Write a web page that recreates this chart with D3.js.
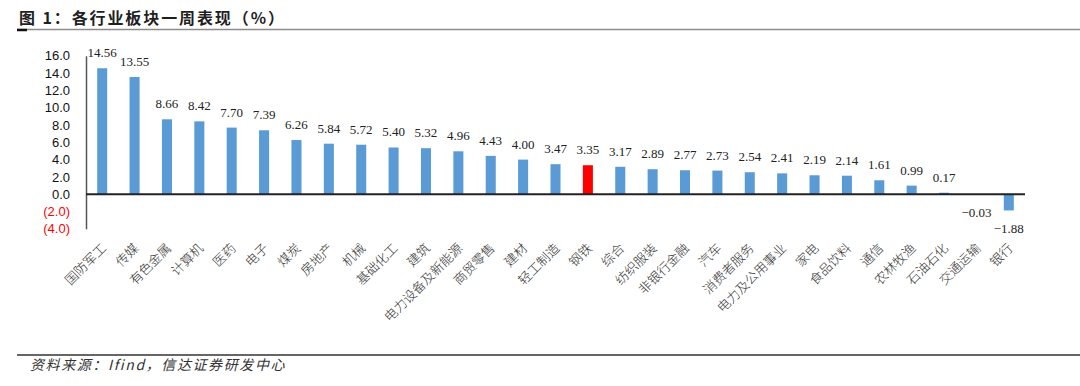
<!DOCTYPE html>
<html><head><meta charset="utf-8">
<script src="https://cdn.jsdelivr.net/npm/d3@7"></script>
<style>body{margin:0;background:#fff;}svg{display:block;}</style>
</head><body>
<svg id="chart" width="1080" height="386"></svg>
<script>
const categories = ["国防军工","传媒","有色金属","计算机","医药","电子","煤炭","房地产","机械","基础化工","建筑","电力设备及新能源","商贸零售","建材","轻工制造","钢铁","综合","纺织服装","非银行金融","汽车","消费者服务","电力及公用事业","家电","食品饮料","通信","农林牧渔","石油石化","交通运输","银行"];
const values = [14.56,13.55,8.66,8.42,7.70,7.39,6.26,5.84,5.72,5.40,5.32,4.96,4.43,4.00,3.47,3.35,3.17,2.89,2.77,2.73,2.54,2.41,2.19,2.14,1.61,0.99,0.17,-0.03,-1.88];
const highlight = "钢铁";
const yTicks = [16,14,12,10,8,6,4,2,0,-2,-4];

const svg = d3.select("#chart");
const x = d3.scaleBand().domain(categories).range([86,1025]).paddingInner(0.69).paddingOuter(0.345);
const y = d3.scaleLinear().domain([-4,16]).range([228.8,55.8]);

// title
svg.append("text").attr("x",19).attr("y",24).attr("font-family","'Noto Sans CJK SC',sans-serif")
  .attr("font-weight","bold").attr("font-size",16).attr("letter-spacing",1.9).attr("fill","#1f1f1f")
  .text("图 1：各行业板块一周表现（%）");
svg.append("line").attr("x1",17).attr("x2",1080).attr("y1",29.5).attr("y2",29.5).attr("stroke","#8c8c8c").attr("stroke-width",1.5);
svg.append("line").attr("x1",17).attr("x2",27).attr("y1",30).attr("y2",30).attr("stroke","#111").attr("stroke-width",2.5);

// y axis
const yAxis = d3.axisLeft(y).tickValues(yTicks).tickSize(0).tickPadding(16)
  .tickFormat(d => d < 0 ? "(" + d3.format(".1f")(-d) + ")" : d3.format(".1f")(d));
const ya = svg.append("g").attr("transform","translate(86,0)").call(yAxis);
ya.select(".domain").attr("stroke","#555").attr("stroke-width",1.5);
ya.selectAll("text").attr("font-family","Arial,'Liberation Sans',sans-serif").attr("font-size",13)
  .attr("fill", d => d < 0 ? "#ff0000" : "#111");

// bars
svg.append("g").selectAll("rect").data(categories).join("rect")
  .attr("x", d => x(d)).attr("width", x.bandwidth())
  .attr("y", (d,i) => y(Math.max(0, values[i])))
  .attr("height", (d,i) => Math.abs(y(values[i]) - y(0)))
  .attr("fill", d => d === highlight ? "#ff0000" : "#5b9bd5");

// zero line
svg.append("line").attr("x1",86).attr("x2",1025).attr("y1",y(0)).attr("y2",y(0)).attr("stroke","#222").attr("stroke-width",2);

// value labels
svg.append("g").selectAll("text").data(categories).join("text")
  .attr("x", d => x(d) + x.bandwidth()/2)
  .attr("y", (d,i) => values[i] >= 0 ? y(values[i]) - 11 : y(values[i]) + 23)
  .attr("text-anchor","middle").attr("font-family","'Liberation Serif','Times New Roman',serif")
  .attr("font-size",13).attr("fill","#222")
  .text((d,i) => d3.format(".2f")(values[i]));

// category labels
svg.append("g").selectAll("text").data(categories).join("text")
  .attr("transform", d => `translate(${x(d) + x.bandwidth()/2 + 5},249) rotate(-45)`)
  .attr("text-anchor","end").attr("font-family","'Noto Sans CJK SC',sans-serif")
  .attr("font-weight",300).attr("font-size",13).attr("fill","#333")
  .text(d => d);

// footer
svg.append("line").attr("x1",17).attr("x2",1080).attr("y1",355).attr("y2",355).attr("stroke","#333").attr("stroke-width",1.5);
svg.append("text").attr("x",30).attr("y",370).attr("font-family","'Noto Sans CJK SC',sans-serif")
  .attr("font-style","italic").attr("font-size",14).attr("letter-spacing",1.6).attr("fill","#333")
  .text("资料来源：Ifind，信达证券研发中心");
</script>
</body></html>
